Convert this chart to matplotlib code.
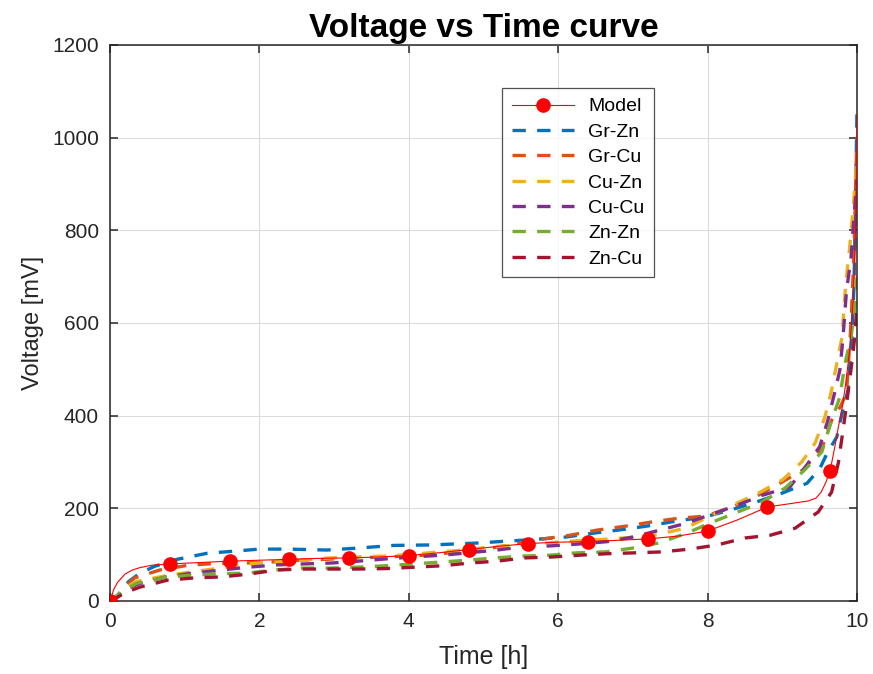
import matplotlib
matplotlib.use("Agg")
import matplotlib.pyplot as plt
import numpy as np

plt.rcParams['font.family'] = ['Liberation Sans', 'DejaVu Sans']

# ---------------- data ----------------
model_t = [0, 0.05, 0.1, 0.2, 0.3, 0.4, 0.55, 0.8, 1.2, 1.6, 2.0, 2.4, 2.8, 3.2, 3.6, 4.0,
           4.4, 4.8, 5.2, 5.6, 6.0, 6.4, 6.8, 7.2, 7.6, 8.0, 8.4, 8.8, 9.1, 9.35, 9.45,
           9.52, 9.58, 9.64, 9.7, 9.75, 9.8, 9.85, 9.9, 9.95, 9.98, 10.0]
model_v = [0, 25, 40, 58, 67, 72, 77, 80, 83, 86, 88, 90, 92, 93, 95, 98,
           104, 111, 118, 124, 127, 128, 131, 134, 140, 151, 175, 203, 210, 216, 222,
           235, 255, 281, 330, 375, 415, 470, 540, 650, 800, 1050]
model_marker_t = [0, 0.8, 1.6, 2.4, 3.2, 4.0, 4.8, 5.6, 6.4, 7.2, 8.0, 8.8, 9.64]

grzn_t = [0, 0.1, 0.25, 0.4, 0.6, 0.9, 1.3, 1.7, 2.0, 2.4, 2.9, 3.3, 3.8, 4.3, 4.9, 5.4, 5.7,
          6.1, 6.5, 6.9, 7.2, 7.6, 7.95, 8.3, 8.66, 9.0, 9.33, 9.5, 9.6, 9.73, 9.8, 9.88,
          9.93, 9.96, 9.99, 10.0]
grzn_v = [0, 12, 42, 60, 75, 90, 103, 108, 112, 112, 110, 114, 120, 121, 125, 130, 133,
          138, 147, 155, 162, 173, 181, 196, 214, 233, 254, 285, 319, 354, 405, 455,
          570, 680, 960, 1060]

grcu_t = [0, 0.1, 0.2, 0.33, 0.67, 1.04, 1.4, 1.78, 2.14, 2.55, 2.9, 3.25, 3.65, 4.0, 4.35,
          4.72, 5.1, 5.45, 5.8, 6.16, 6.52, 6.92, 7.27, 7.63, 7.97, 8.34, 8.7, 9.0, 9.28,
          9.53, 9.66, 9.78, 9.86, 9.92, 9.96, 9.99, 10.0]
grcu_v = [0, 10, 30, 50, 67, 77, 81, 82, 84, 88, 90, 93, 95, 97, 100,
          108, 114, 124, 134, 142, 153, 162, 171, 179, 183, 203, 230, 257, 283,
          330, 390, 420, 449, 600, 750, 950, 1000]

cuzn_t = [0, 0.1, 0.2, 0.35, 0.73, 1.1, 1.47, 1.83, 2.18, 2.57, 2.95, 3.3, 3.68, 4.05, 4.42,
          4.75, 5.1, 5.5, 5.9, 6.25, 6.6, 6.95, 7.32, 7.7, 8.03, 8.34, 8.68, 9.0, 9.26,
          9.44, 9.57, 9.66, 9.73, 9.8, 9.85, 9.9, 9.95, 10.0]
cuzn_v = [0, 10, 28, 42, 54, 63, 71, 80, 84, 88, 93, 95, 97, 101, 106,
          110, 117, 121, 126, 130, 133, 137, 143, 157, 183, 207, 233, 261, 300,
          341, 397, 455, 513, 570, 686, 760, 850, 960]

cucu_t = [0, 0.1, 0.2, 0.4, 0.75, 1.1, 1.5, 1.85, 2.24, 2.6, 2.97, 3.32, 3.7, 4.06, 4.45,
          4.8, 5.18, 5.53, 5.9, 6.27, 6.65, 7.0, 7.36, 7.72, 8.05, 8.4, 8.73, 9.1, 9.33,
          9.5, 9.61, 9.7, 9.77, 9.81, 9.86, 9.92, 9.96, 10.0]
cucu_v = [0, 10, 25, 38, 52, 60, 67, 73, 78, 80, 82, 86, 91, 95, 99,
          104, 110, 117, 119, 123, 128, 138, 153, 168, 187, 207, 228, 246, 294,
          333, 390, 449, 498, 563, 671, 740, 830, 910]

znzn_t = [0, 0.1, 0.2, 0.37, 0.73, 1.1, 1.47, 1.83, 2.2, 2.58, 2.94, 3.3, 3.68, 4.06, 4.42,
          4.78, 5.15, 5.53, 5.9, 6.25, 6.63, 6.99, 7.34, 7.7, 8.03, 8.37, 8.7, 9.04, 9.3,
          9.53, 9.64, 9.77, 9.84, 9.92, 9.97, 10.0]
znzn_v = [0, 12, 25, 39, 51, 56, 59, 60, 67, 71, 71, 73, 76, 80, 84,
          88, 93, 97, 99, 104, 106, 114, 125, 145, 168, 190, 211, 244, 283,
          322, 380, 440, 513, 570, 630, 700]

zncu_t = [0, 0.1, 0.2, 0.4, 0.77, 1.14, 1.5, 1.85, 2.24, 2.6, 2.97, 3.35, 3.7, 4.08, 4.44,
          4.82, 5.18, 5.55, 5.92, 6.3, 6.65, 7.03, 7.39, 7.76, 8.13, 8.5, 8.84, 9.17, 9.48,
          9.66, 9.75, 9.8, 9.85, 9.93, 9.97, 10.0]
zncu_v = [0, 8, 18, 30, 45, 50, 52, 58, 67, 69, 69, 69, 70, 73, 76,
          82, 86, 93, 95, 99, 102, 104, 106, 112, 121, 136, 142, 157, 192,
          235, 298, 354, 412, 513, 570, 640]

series_names = ['Gr-Zn', 'Gr-Cu', 'Cu-Zn', 'Cu-Cu', 'Zn-Zn', 'Zn-Cu']
series_t = [grzn_t, grcu_t, cuzn_t, cucu_t, znzn_t, zncu_t]
series_v = [grzn_v, grcu_v, cuzn_v, cucu_v, znzn_v, zncu_v]
series_colors = ['#0072BD', '#D95319', '#EDB120', '#7E2F8E', '#77AC30', '#A2142F']

x_ticks = [0, 2, 4, 6, 8, 10]
y_ticks = [0, 200, 400, 600, 800, 1000, 1200]

# ---------------- figure ----------------
fig = plt.figure(figsize=(8.73, 6.74), dpi=100)
ax = fig.add_axes([110/873, 1 - 601/674, (857-110)/873, (601-45)/674])

dark = '#262626'
mk_idx = [int(np.argmin(np.abs(np.array(model_t) - m))) for m in model_marker_t]
ax.plot(model_t, model_v, color='red', lw=0.8, marker='o', markersize=9.5,
        markerfacecolor='red', markeredgecolor='red', markevery=mk_idx,
        label='Model', zorder=3)

for t, v, c, n in zip(series_t, series_v, series_colors, series_names):
    ax.plot(t, v, color=c, lw=2.4, linestyle=(0, (4.0, 3.4)), label=n, zorder=2)

ax.set_xlim(0, 10)
ax.set_ylim(0, 1200)
ax.set_xticks(x_ticks)
ax.set_yticks(y_ticks)
ax.grid(True, color='#dcdcdc', lw=0.8)
ax.set_axisbelow(True)
for s in ax.spines.values():
    s.set_color(dark)
    s.set_linewidth(1.1)
ax.tick_params(direction='in', length=6, width=1.1, colors=dark, labelsize=15,
               top=True, right=True, labeltop=False, labelright=False, pad=8)
for lbl in ax.get_xticklabels() + ax.get_yticklabels():
    lbl.set_color(dark)

ax.set_xlabel('Time [h]', fontsize=18, color=dark, labelpad=10)
ax.set_ylabel('Voltage [mV]', fontsize=17, color=dark, labelpad=6)
ax.set_title('Voltage vs Time curve', fontsize=24, fontweight='bold', color='black', pad=6)

leg = ax.legend(loc='upper left', bbox_to_anchor=((502-110)/747, (601-88)/556),
                fontsize=14, frameon=True, fancybox=False, edgecolor=dark,
                handlelength=3.22, handletextpad=0.7, labelspacing=0.4,
                borderpad=0.5, borderaxespad=0)
leg.get_frame().set_linewidth(0.9)

fig.savefig('out.png', dpi=100)
